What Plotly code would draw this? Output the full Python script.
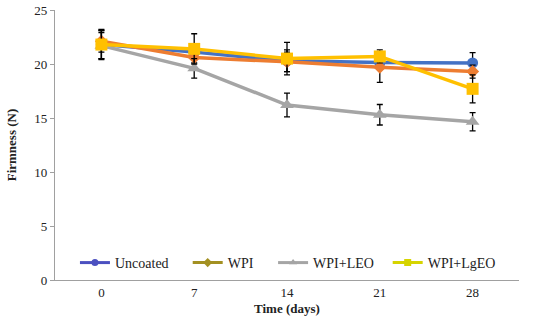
import plotly.graph_objects as go

days = ["0", "7", "14", "21", "28"]
series_names = ["Uncoated", "WPI", "WPI+LEO", "WPI+LgEO"]
uncoated = [21.8, 21.1, 20.3, 20.15, 20.1]
wpi = [22.1, 20.6, 20.2, 19.7, 19.3]
wpi_leo = [21.7, 19.6, 16.2, 15.3, 14.65]
wpi_lgeo = [21.8, 21.4, 20.5, 20.7, 17.7]
err_uncoated = [1.3, 0.6, 1.0, 0.5, 0.95]
err_wpi = [1.0, 0.5, 0.9, 1.4, 0.6]
err_leo = [1.2, 0.9, 1.1, 0.95, 0.85]
err_lgeo = [1.4, 1.4, 1.5, 0.6, 1.3]
yticks = [0, 5, 10, 15, 20, 25]

values = [uncoated, wpi, wpi_leo, wpi_lgeo]
errors = [err_uncoated, err_wpi, err_leo, err_lgeo]
line_colors = ["#4472C4", "#ED7D31", "#A5A5A5", "#FFC000"]
legend_colors = ["#4B50C0", "#A39022", "#A5A5A5", "#D6D400"]
symbols = ["circle", "diamond", "triangle-up", "square"]
sizes = [11, 10, 12, 12]
legend_ids = ["legend", "legend2", "legend3", "legend4"]
legend_x = [0.043, 0.286, 0.470, 0.717]

fig = go.Figure()
for name, y, e, c, s, sz in zip(series_names, values, errors, line_colors, symbols, sizes):
    fig.add_trace(go.Scatter(
        x=days, y=y, mode="lines+markers", name=name, showlegend=False,
        line=dict(color=c, width=3.5),
        marker=dict(symbol=s, size=sz, color=c),
        error_y=dict(type="data", array=e, color="black", thickness=1.3, width=3),
    ))
for name, c, s, lid in zip(series_names, legend_colors, symbols, legend_ids):
    fig.add_trace(go.Scatter(
        x=[None], y=[None], mode="lines+markers", name=name, legend=lid,
        line=dict(color=c, width=3),
        marker=dict(symbol=s, size=7, color=c),
    ))

font_family = "Liberation Serif"
legend_style = dict(orientation="h", y=0.063, xanchor="left", yanchor="middle",
                    bgcolor="rgba(0,0,0,0)", font=dict(size=14, family=font_family))
layout_legends = {lid: dict(x=lx, **legend_style) for lid, lx in zip(legend_ids, legend_x)}

fig.update_layout(
    width=550, height=328,
    margin=dict(l=55, r=31, t=10, b=48),
    plot_bgcolor="white", paper_bgcolor="white",
    font=dict(family=font_family, size=13, color="#222"),
    showlegend=True,
    xaxis=dict(type="category", range=[-0.5, 4.5], showline=True, linecolor="#a0a0a0",
               linewidth=1.2, ticks="", showgrid=False, zeroline=False, automargin=False,
               tickfont=dict(size=13), ticklabeloverflow="allow",
               title=dict(text="<b>Time (days)</b>", font=dict(size=13), standoff=5)),
    yaxis=dict(range=[0, 25], tickvals=yticks, showline=True, linecolor="#a0a0a0",
               linewidth=1.2, ticks="outside", ticklen=4, tickcolor="#a0a0a0",
               showgrid=False, zeroline=False, automargin=False, tickfont=dict(size=13),
               ticklabeloverflow="allow",
               title=dict(text="<b>Firmness (N)</b>", font=dict(size=13), standoff=14)),
    **layout_legends,
)
fig.write_html("out.html", config={"displayModeBar": False},
               post_script="document.body.style.margin='0';")
